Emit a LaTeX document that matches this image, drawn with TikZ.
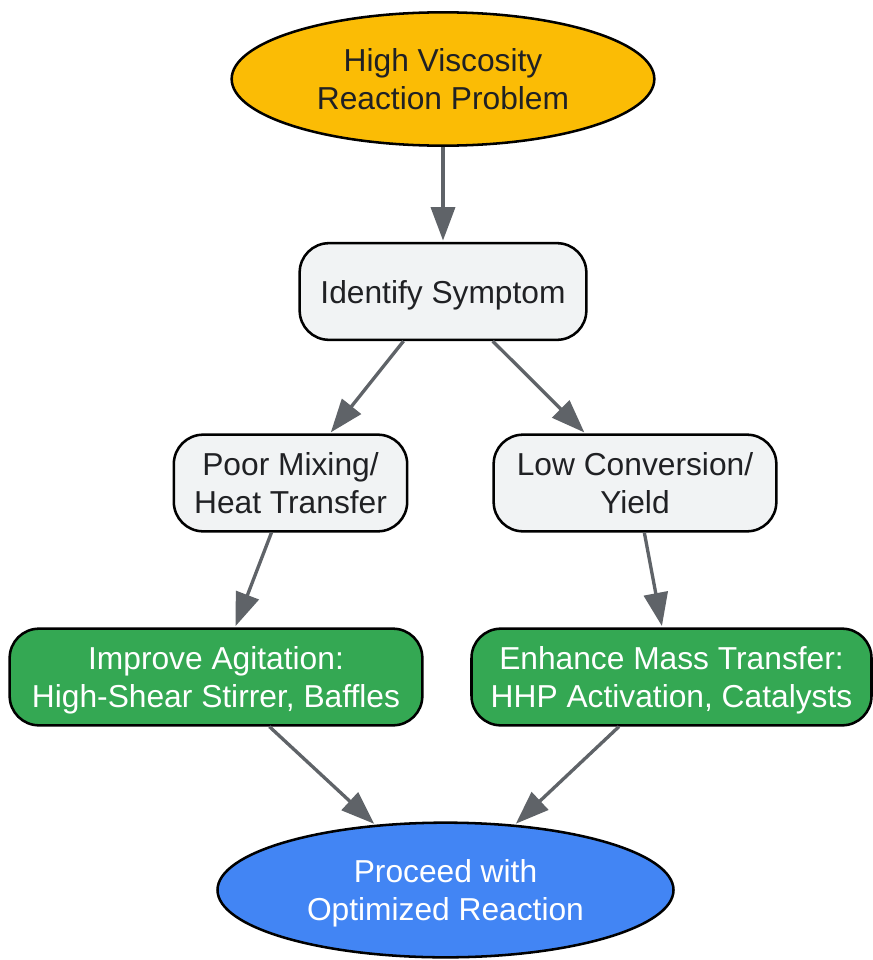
\documentclass[tikz,border=0pt]{standalone}
\usepackage{fontspec}
\setmainfont{Liberation Sans}
\usepackage{xcolor}
\usetikzlibrary{shapes.geometric,arrows.meta}

\definecolor{probyellow}{HTML}{FBBC05}
\definecolor{stepgray}{HTML}{F1F3F4}
\definecolor{fixgreen}{HTML}{34A853}
\definecolor{doneblue}{HTML}{4285F4}
\definecolor{edgegray}{HTML}{5F6368}
\definecolor{inkdark}{HTML}{202124}

\tikzset{
  oval/.style={ellipse, draw=black, line width=1.9pt, inner sep=0pt, align=center,
    font=\fontsize{23.8}{28.5}\selectfont},
  roundbox/.style={rectangle, rounded corners=22pt, draw=black, line width=1.9pt,
    inner sep=0pt, minimum height=72.5pt, align=center, text depth=0pt,
    font=\fontsize{23.8}{28.5}\selectfont},
  flow/.style={draw=edgegray, line width=2.5pt, -{Triangle[length=25pt,width=18pt]}, shorten >=1pt}
}

\begin{document}
\begin{tikzpicture}[x=0.75pt,y=0.75pt,yscale=-1,xscale=1]
        \useasboundingbox (0,0) rectangle (873,960);

        \node [oval, fill=probyellow, text=inkdark, minimum width=317pt, minimum height=100pt] (problem) at (443,79) {High Viscosity\\Reaction Problem};
        \node [roundbox, fill=stepgray, text=inkdark, minimum width=215pt] (symptom) at (443,291.5) {Identify Symptom};
        \node [roundbox, fill=stepgray, text=inkdark, minimum width=175pt] (mixing) at (290.5,483) {Poor Mixing/\\Heat Transfer};
        \node [roundbox, fill=stepgray, text=inkdark, minimum width=212pt] (conversion) at (635,483) {Low Conversion/\\Yield};
        \node [roundbox, fill=fixgreen, text=white, minimum width=309.5pt] (agitation) at (216,677) {Improve Agitation:\\High-Shear Stirrer, Baffles};
        \node [roundbox, fill=fixgreen, text=white, minimum width=300pt] (masstransfer) at (671.5,677) {Enhance Mass Transfer:\\HHP Activation, Catalysts};
        \node [oval, fill=doneblue, text=white, text depth=0pt, minimum width=342pt, minimum height=101pt] (proceed) at (445.5,890) {Proceed with\\Optimized Reaction};

        \draw [flow] (problem) -- (symptom);
        \draw [flow] (symptom) -- (mixing);
        \draw [flow] (symptom) -- (conversion);
        \draw [flow] (mixing) -- (agitation);
        \draw [flow] (conversion) -- (masstransfer);
        \draw [flow] (agitation) -- (proceed);
        \draw [flow] (masstransfer) -- (proceed);
    \end{tikzpicture}
\end{document}
